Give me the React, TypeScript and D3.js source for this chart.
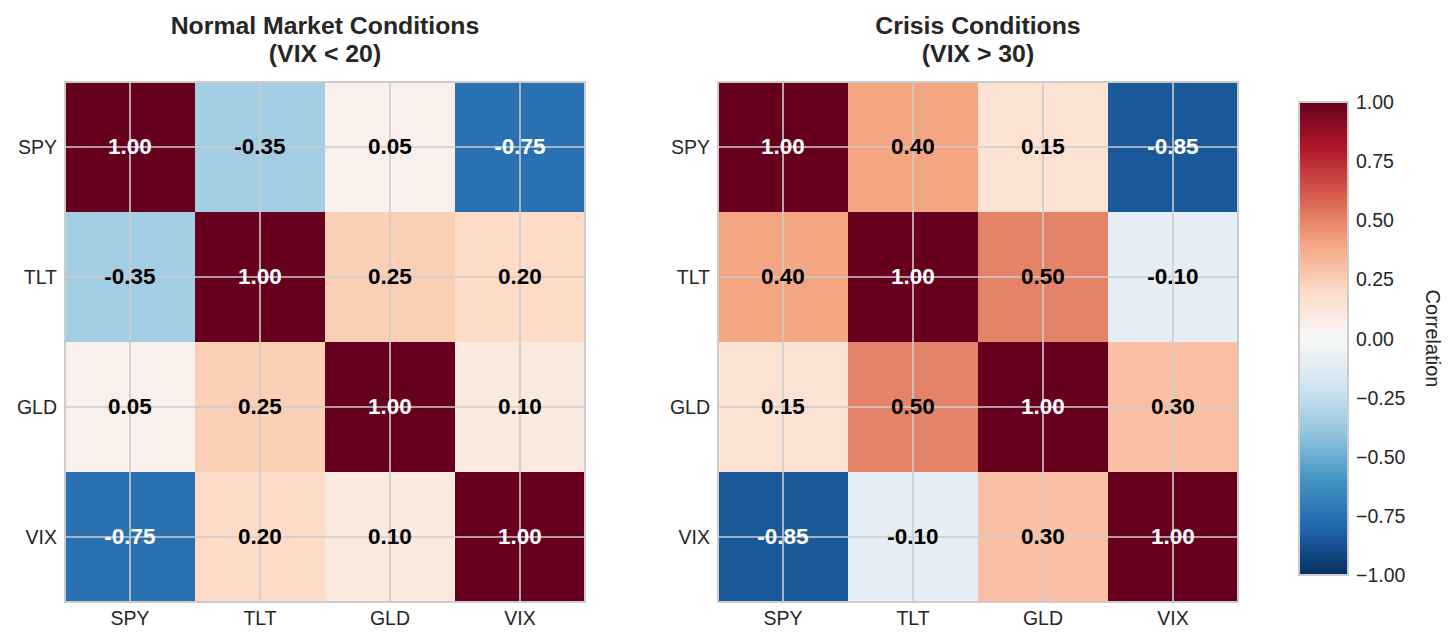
import React from "react";
import * as d3 from "d3";

const assets = ["SPY", "TLT", "GLD", "VIX"];
const normalCorr = [
  [1.0, -0.35, 0.05, -0.75],
  [-0.35, 1.0, 0.25, 0.2],
  [0.05, 0.25, 1.0, 0.1],
  [-0.75, 0.2, 0.1, 1.0],
];
const crisisCorr = [
  [1.0, 0.4, 0.15, -0.85],
  [0.4, 1.0, 0.5, -0.1],
  [0.15, 0.5, 1.0, 0.3],
  [-0.85, -0.1, 0.3, 1.0],
];
const panelTitles = [
  ["Normal Market Conditions", "(VIX < 20)"],
  ["Crisis Conditions", "(VIX > 30)"],
];
const cbTicks = [1.0, 0.75, 0.5, 0.25, 0.0, -0.25, -0.5, -0.75, -1.0];
const rdbuColors = [
  "#053061", "#2166ac", "#4393c3", "#92c5de", "#d1e5f0", "#f7f7f7",
  "#fddbc7", "#f4a582", "#d6604d", "#b2182b", "#67001f",
];

const color = d3
  .scaleLinear<string>()
  .domain(d3.range(11).map((i) => -1 + i * 0.2))
  .range(rdbuColors)
  .interpolate(d3.interpolateRgb);

const W = 1455;
const H = 643;
const size = 520;
const panelX = [65, 718];
const panelY = 82;
const grid = "#cccccc";
const fontMain = "'Liberation Sans', Arial, sans-serif";
const textColor = "#262626";

function Heatmap({ x0, data, title }: { x0: number; data: number[][]; title: string[] }) {
  const band = d3.scaleBand<string>().domain(assets).range([0, size]);
  const bw = band.bandwidth();
  return (
    <g transform={`translate(${x0},${panelY})`}>
      <text x={size / 2} y={-48} textAnchor="middle" fontFamily={fontMain} fontWeight="bold" fontSize={24.8} fill={textColor}>
        {title[0]}
      </text>
      <text x={size / 2} y={-20} textAnchor="middle" fontFamily={fontMain} fontWeight="bold" fontSize={24.8} fill={textColor}>
        {title[1]}
      </text>
      {data.map((row, i) =>
        row.map((v, j) => (
          <rect key={`${i}-${j}`} x={band(assets[j])} y={band(assets[i])} width={bw} height={bw} fill={color(v)} />
        ))
      )}
      {assets.map((a) => (
        <g key={a}>
          <line x1={band(a)! + bw / 2} x2={band(a)! + bw / 2} y1={0} y2={size} stroke={grid} strokeWidth={1.6} />
          <line y1={band(a)! + bw / 2} y2={band(a)! + bw / 2} x1={0} x2={size} stroke={grid} strokeWidth={1.6} />
        </g>
      ))}
      <rect x={0} y={0} width={size} height={size} fill="none" stroke={grid} strokeWidth={2} />
      {data.map((row, i) =>
        row.map((v, j) => (
          <text
            key={`t${i}-${j}`}
            x={band(assets[j])! + bw / 2}
            y={band(assets[i])! + bw / 2}
            dy="0.3em"
            textAnchor="middle"
            fontFamily={fontMain}
            fontWeight="bold"
            fontSize={22.5}
            fill={Math.abs(v) > 0.5 ? "white" : "black"}
          >
            {v.toFixed(2)}
          </text>
        ))
      )}
      {assets.map((a) => (
        <text key={`y${a}`} x={-8} y={band(a)! + bw / 2} dy="0.36em" textAnchor="end" fontFamily={fontMain} fontSize={19.5} fill={textColor}>
          {a}
        </text>
      ))}
      {assets.map((a) => (
        <text key={`x${a}`} x={band(a)! + bw / 2} y={size + 16} dy="0.36em" textAnchor="middle" fontFamily={fontMain} fontSize={19.5} fill={textColor}>
          {a}
        </text>
      ))}
    </g>
  );
}

function Colorbar() {
  const x = 1299;
  const w = 49;
  const y0 = 102;
  const y1 = 575;
  const yScale = d3.scaleLinear().domain([-1, 1]).range([y1, y0]);
  const stops = d3.range(0, 1.0001, 0.05);
  return (
    <g>
      <defs>
        <linearGradient id="cbgrad" x1="0" y1="1" x2="0" y2="0">
          {stops.map((s) => (
            <stop key={s} offset={s} stopColor={color(-1 + 2 * s)} />
          ))}
        </linearGradient>
      </defs>
      <rect x={x} y={y0} width={w} height={y1 - y0} fill="url(#cbgrad)" stroke={grid} strokeWidth={2} />
      {cbTicks.map((t) => (
        <text key={t} x={x + w + 8} y={yScale(t)} dy="0.36em" fontFamily={fontMain} fontSize={19.5} fill={textColor}>
          {t.toFixed(2).replace("-", "\u2212")}
        </text>
      ))}
      <text
        transform={`translate(${1426},${(y0 + y1) / 2}) rotate(90)`}
        textAnchor="middle"
        fontFamily={fontMain}
        fontSize={20}
        fill={textColor}
      >
        Correlation
      </text>
    </g>
  );
}

export default function App() {
  return (
    <svg width={W} height={H} style={{ position: "absolute", left: 0, top: 0, background: "white" }}>
      <rect width={W} height={H} fill="white" />
      <Heatmap x0={panelX[0]} data={normalCorr} title={panelTitles[0]} />
      <Heatmap x0={panelX[1]} data={crisisCorr} title={panelTitles[1]} />
      <Colorbar />
    </svg>
  );
}
